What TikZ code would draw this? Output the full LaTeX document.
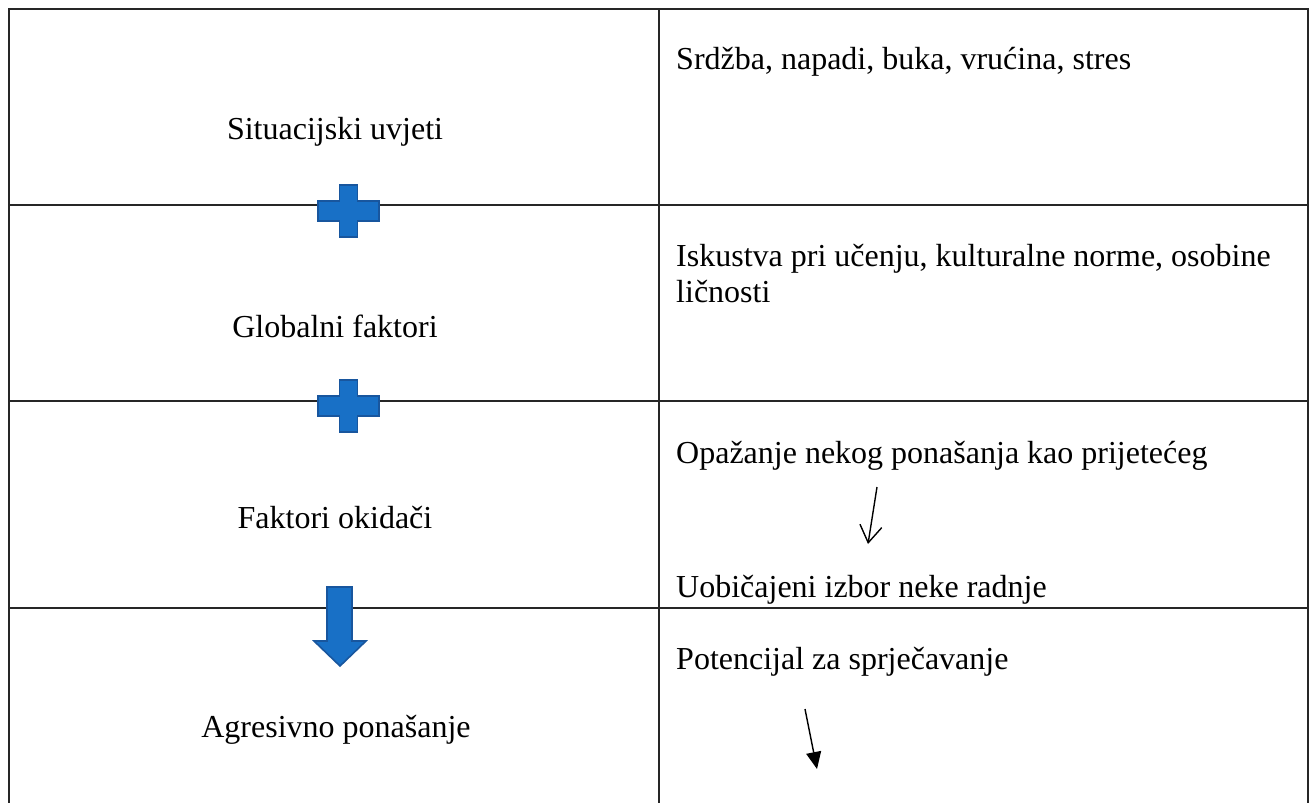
\documentclass[tikz,border=0pt]{standalone}
\usepackage{fontspec}
\setmainfont{Liberation Serif}
\usetikzlibrary{arrows.meta}
\definecolor{shapefill}{RGB}{24,112,198}
\definecolor{shapeedge}{RGB}{24,86,158}
\begin{document}
\begin{tikzpicture}[x=1pt,y=-1pt,
  grid/.style={line width=1.4pt, draw=black!85},
  lbl/.style={font=\fontsize{32}{37}\selectfont, inner sep=0pt},
  blueshape/.style={fill=shapefill, draw=shapeedge, line width=1.6pt, line join=miter},
  plussign/.pic={\draw[blueshape] (-9,-26) -- (9,-26) -- (9,-10) -- (30.5,-10) -- (30.5,10) -- (9,10) -- (9,26) -- (-9,26) -- (-9,10) -- (-30.5,10) -- (-30.5,-10) -- (-9,-10) -- cycle;},
  thinarrow/.style={line width=1.4pt, draw=black}
]
\useasboundingbox (0,0) rectangle (1309,803);

% table grid
\draw[grid] (9,803) -- (9,9) -- (1308,9) -- (1308,803);
\draw[grid] (659,9) -- (659,803);
\draw[grid] (9,205) -- (1308,205);
\draw[grid] (9,401) -- (1308,401);
\draw[grid] (9,608) -- (1308,608);

% left column
\node[lbl, anchor=base] (sit) at (335,139) {Situacijski uvjeti};
\node[lbl, anchor=base] (glob) at (335,337) {Globalni faktori};
\node[lbl, anchor=base] (okid) at (335,528) {Faktori okidači};
\node[lbl, anchor=base] (agr) at (336,737) {Agresivno ponašanje};

% right column
\node[lbl, anchor=base west] (srd) at (676,69) {Srdžba, napadi, buka, vrućina, stres};
\node[lbl, anchor=base west] (isk) at (676,266) {Iskustva pri učenju, kulturalne norme, osobine};
\node[lbl, anchor=base west] (licn) at (676,302) {ličnosti};
\node[lbl, anchor=base west] (opaz) at (676,463) {Opažanje nekog ponašanja kao prijetećeg};
\node[lbl, anchor=base west] (uob) at (676,597) {Uobičajeni izbor neke radnje};
\node[lbl, anchor=base west] (pot) at (676,669) {Potencijal za sprječavanje};

% blue plus signs and down arrow
\pic at (348.5,211) {plussign};
\pic at (348.5,406) {plussign};
\draw[blueshape] (327,587) -- (352,587) -- (352,641) -- (366,641) -- (340,666) -- (314,641) -- (327,641) -- cycle;

% small arrows
\coordinate (a1s) at (877,487);
\coordinate (a1e) at (868,544);
\draw[thinarrow, -{Straight Barb[length=17pt,width=22pt]}] (a1s) -- (a1e);
\coordinate (a2s) at (805,709);
\coordinate (a2e) at (817,769);
\draw[thinarrow, -{Triangle[length=17pt,width=15pt]}] (a2s) -- (a2e);
\end{tikzpicture}
\end{document}
